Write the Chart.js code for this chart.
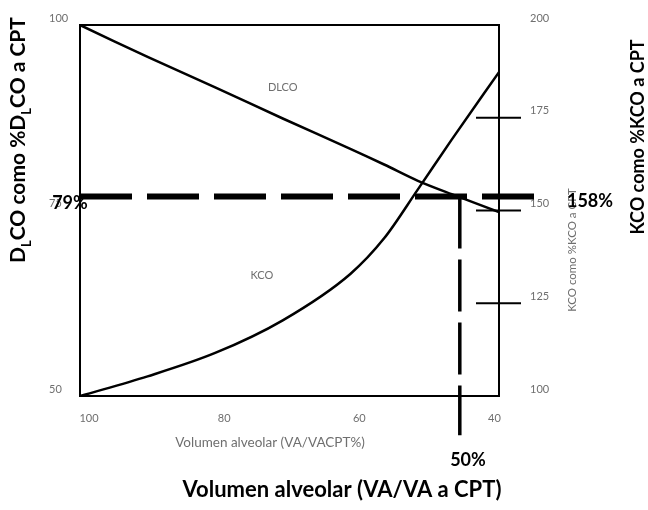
<!DOCTYPE html>
<html>
<head>
<meta charset="utf-8">
<script src="https://cdn.jsdelivr.net/npm/chart.js@4/dist/chart.umd.min.js"></script>
<style>
  body { margin: 0; background: #fff; }
  #wrap { position: relative; width: 648px; height: 510px; }
</style>
</head>
<body>
<div id="wrap"><canvas id="chart" width="648" height="510"></canvas></div>
<script>
// Volumen alveolar (% of CPT) along the x axis, reversed 100 -> 40
const vaPct   = [100, 90, 80, 70, 60, 55, 50, 45, 38];
const dlcoPct = [100, 95.7, 91.6, 87.4, 83.3, 81.2, 79.0, 77.2, 74.8];      // left axis
const kcoPct  = [100, 105.3, 111.6, 120.4, 132.9, 142.5, 155.7, 169.1, 187.3]; // right axis

const xTicks     = [100, 80, 60, 40];
const rightMarks = [125, 150, 175];

// reference lines (dashed)
const refHorizVa   = [100, 32.7];   // from left edge past the right axis
const refHorizDlco = 76.9;
const refVertVa    = 43.8;
const refVertDlco  = [76.9, 44.7];  // down below the plot

const FONT = 'Lato, "Open Sans", sans-serif';
const GREY = '#6f6f6f';

Chart.defaults.font.family = FONT;

// tick marks across the right axis, box border, and all free text
const decorPlugin = {
    id: 'decor',
    beforeDatasetsDraw(chart) {
        const { ctx, chartArea: a } = chart;
        ctx.save();
        ctx.strokeStyle = '#000';
        ctx.lineWidth = 2;
        ctx.strokeRect(a.left, a.top, a.right - a.left, a.bottom - a.top);
        const y1 = chart.scales.y1;
        rightMarks.forEach(v => {
            const py = y1.getPixelForValue(v);
            ctx.beginPath();
            ctx.moveTo(a.right - 23, py);
            ctx.lineTo(a.right + 22, py);
            ctx.stroke();
        });
        ctx.restore();
    },
    afterDraw(chart) {
        const { ctx } = chart;
        const x = chart.scales.x, y = chart.scales.y, y1 = chart.scales.y1;
        ctx.save();
        ctx.textAlign = 'center';
        ctx.textBaseline = 'middle';

        // series labels
        ctx.fillStyle = GREY;
        ctx.font = '11px ' + FONT;
        ctx.fillText('DLCO', x.getPixelForValue(70), y.getPixelForValue(91.6));
        ctx.fillText('KCO', x.getPixelForValue(73.1), y1.getPixelForValue(132.6));

        // small axis titles
        ctx.font = '13.5px ' + FONT;
        ctx.fillText('Volumen alveolar (VA/VACPT%)', 270, 443);
        ctx.save();
        ctx.translate(572, 250);
        ctx.rotate(-Math.PI / 2);
        ctx.font = '11.5px ' + FONT;
        ctx.fillText('KCO como %KCO a CPT', 0, 0);
        ctx.restore();

        // value callouts
        ctx.fillStyle = '#000';
        ctx.font = 'bold 18px ' + FONT;
        ctx.fillText('79%', 70, 203);
        ctx.fillText('158%', 590, 201);
        ctx.fillText('50%', 468, 460);

        // big titles
        ctx.font = 'bold 22px ' + FONT;
        ctx.fillText('Volumen alveolar (VA/VA a CPT)', 342, 490);

        ctx.save();
        ctx.translate(638, 137);
        ctx.rotate(-Math.PI / 2);
        ctx.font = 'bold 18px ' + FONT;
        ctx.fillText('KCO como %KCO a CPT', 0, 0);
        ctx.restore();

        // left title with subscript L
        const parts = [['D', 0], ['L', 1], ['CO como %D', 0], ['L', 1], ['CO a CPT', 0]];
        const big = 'bold 21px ' + FONT, small = 'bold 13px ' + FONT;
        let total = 0;
        parts.forEach(p => { ctx.font = p[1] ? small : big; total += ctx.measureText(p[0]).width; });
        ctx.save();
        ctx.translate(18, 140);
        ctx.rotate(-Math.PI / 2);
        ctx.textAlign = 'left';
        let cx = -total / 2;
        parts.forEach(p => {
            ctx.font = p[1] ? small : big;
            ctx.fillText(p[0], cx, p[1] ? 9 : 0);
            cx += ctx.measureText(p[0]).width;
        });
        ctx.restore();

        ctx.restore();
    }
};

// keep the plot box at fixed edges regardless of tick label padding
function fixVertical(width) {
    return s => {
        s.width = width;
        s.paddingTop = 0;
        s.paddingBottom = 0;
    };
}

const ctx = document.getElementById('chart').getContext('2d');
new Chart(ctx, {
    type: 'line',
    data: {
        datasets: [
            {
                label: 'DLCO',
                data: vaPct.map((v, i) => ({ x: v, y: dlcoPct[i] })),
                yAxisID: 'y',
                borderColor: '#000',
                borderWidth: 2.5,
                pointRadius: 0,
                tension: 0.3
            },
            {
                label: 'KCO',
                data: vaPct.map((v, i) => ({ x: v, y: kcoPct[i] })),
                yAxisID: 'y1',
                borderColor: '#000',
                borderWidth: 2.5,
                pointRadius: 0,
                cubicInterpolationMode: 'monotone'
            },
            {
                label: 'ref horizontal',
                data: refHorizVa.map(v => ({ x: v, y: refHorizDlco })),
                yAxisID: 'y',
                borderColor: '#000',
                borderWidth: 6,
                borderDash: [52, 15],
                pointRadius: 0,
                clip: false
            },
            {
                label: 'ref vertical',
                data: refVertDlco.map(v => ({ x: refVertVa, y: v })),
                yAxisID: 'y',
                borderColor: '#000',
                borderWidth: 3.5,
                borderDash: [52, 11],
                pointRadius: 0,
                clip: false
            }
        ]
    },
    options: {
        responsive: false,
        animation: false,
        layout: { padding: { left: 49, top: 25, right: 0, bottom: 0 } },
        plugins: {
            legend: { display: false },
            tooltip: { enabled: false }
        },
        scales: {
            x: {
                type: 'linear',
                reverse: true,
                min: 38,
                max: 100,
                afterBuildTicks: s => { s.ticks = xTicks.map(v => ({ value: v })); },
                afterFit: s => { s.height = 114; s.paddingLeft = 0; s.paddingRight = 0; },
                grid: { display: false, drawTicks: false },
                border: { display: false },
                ticks: { color: GREY, font: { size: 11 }, padding: 16, labelOffset: 9, maxRotation: 0 }
            },
            y: {
                position: 'left',
                min: 50,
                max: 100,
                afterFit: fixVertical(31),
                grid: { display: false, drawTicks: false },
                border: { display: false },
                ticks: { stepSize: 25, color: GREY, font: { size: 11 }, crossAlign: 'far', labelOffset: -7 }
            },
            y1: {
                position: 'right',
                min: 100,
                max: 200,
                afterFit: fixVertical(149),
                grid: { display: false, drawTicks: false },
                border: { display: false },
                ticks: { stepSize: 25, color: GREY, font: { size: 11 }, padding: 31, labelOffset: -7 }
            }
        }
    },
    plugins: [decorPlugin]
});
</script>
</body>
</html>
